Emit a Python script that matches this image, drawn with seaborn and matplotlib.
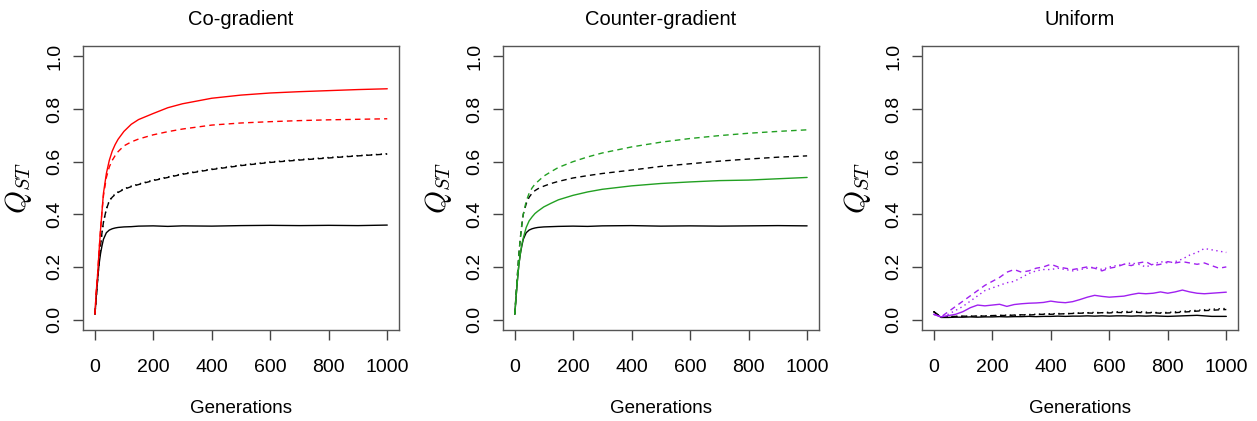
import matplotlib
matplotlib.use("Agg")
import matplotlib.pyplot as plt
import seaborn as sns

# generations sampled for the smooth panels
gens = [1, 5, 10, 15, 20, 25, 30, 40, 50, 60, 70, 80, 100, 125, 150,
        200, 250, 300, 400, 500, 600, 700, 800, 900, 1000]

# Co-gradient
co_red_solid = [0.02, 0.10, 0.17, 0.26, 0.34, 0.41, 0.48, 0.555, 0.605, 0.64, 0.665, 0.685,
                0.715, 0.742, 0.76, 0.783, 0.805, 0.82, 0.841, 0.853, 0.861, 0.866, 0.870, 0.874, 0.877]
co_red_dash = [0.02, 0.10, 0.17, 0.26, 0.34, 0.41, 0.47, 0.54, 0.58, 0.605, 0.623, 0.638,
               0.66, 0.675, 0.686, 0.702, 0.714, 0.724, 0.739, 0.747, 0.752, 0.756, 0.759, 0.761, 0.763]
co_blk_dash = [0.02, 0.08, 0.15, 0.22, 0.28, 0.33, 0.37, 0.42, 0.45, 0.465, 0.475, 0.483,
               0.495, 0.505, 0.513, 0.528, 0.540, 0.552, 0.570, 0.585, 0.597, 0.606, 0.614, 0.622, 0.629]
co_blk_dot = [0.02, 0.08, 0.15, 0.22, 0.28, 0.33, 0.37, 0.42, 0.452, 0.467, 0.477, 0.485,
              0.497, 0.507, 0.515, 0.530, 0.542, 0.554, 0.572, 0.587, 0.599, 0.608, 0.616, 0.623, 0.630]
co_blk_solid = [0.02, 0.08, 0.15, 0.21, 0.25, 0.28, 0.305, 0.33, 0.34, 0.345, 0.348, 0.35,
                0.352, 0.353, 0.355, 0.356, 0.354, 0.356, 0.355, 0.357, 0.358, 0.357, 0.358, 0.357, 0.359]

# Counter-gradient
cg_grn_dash = [0.02, 0.09, 0.17, 0.25, 0.31, 0.36, 0.40, 0.45, 0.48, 0.50, 0.515, 0.525,
               0.545, 0.562, 0.578, 0.600, 0.618, 0.633, 0.656, 0.674, 0.688, 0.699, 0.708, 0.715, 0.721]
cg_blk_dash = [0.02, 0.09, 0.17, 0.25, 0.31, 0.36, 0.40, 0.44, 0.465, 0.48, 0.49, 0.497,
               0.507, 0.517, 0.525, 0.538, 0.547, 0.555, 0.568, 0.582, 0.592, 0.602, 0.610, 0.617, 0.622]
cg_grn_solid = [0.02, 0.08, 0.15, 0.21, 0.25, 0.285, 0.31, 0.35, 0.375, 0.39, 0.403, 0.412,
                0.428, 0.442, 0.455, 0.472, 0.485, 0.495, 0.508, 0.517, 0.523, 0.528, 0.530, 0.535, 0.540]
cg_blk_solid = [0.02, 0.08, 0.15, 0.21, 0.25, 0.28, 0.305, 0.33, 0.34, 0.345, 0.348, 0.35,
                0.352, 0.353, 0.354, 0.355, 0.354, 0.356, 0.357, 0.355, 0.356, 0.355, 0.356, 0.357, 0.356]

# Uniform (noisier, sampled every 25 generations)
ugens = list(range(0, 1001, 25))
un_pur_dash = [0.02, 0.01, 0.03, 0.05, 0.07, 0.09, 0.11, 0.13, 0.145, 0.16, 0.18, 0.19, 0.18, 0.185,
               0.195, 0.20, 0.21, 0.20, 0.195, 0.19, 0.195, 0.20, 0.195, 0.185, 0.195, 0.20, 0.21,
               0.205, 0.215, 0.22, 0.205, 0.21, 0.22, 0.215, 0.22, 0.215, 0.21, 0.215, 0.205, 0.195, 0.20]
un_pur_dot = [0.02, 0.01, 0.02, 0.035, 0.05, 0.07, 0.09, 0.11, 0.12, 0.13, 0.14, 0.145, 0.16, 0.175,
              0.185, 0.19, 0.19, 0.195, 0.19, 0.185, 0.19, 0.195, 0.20, 0.19, 0.20, 0.205, 0.21,
              0.215, 0.21, 0.20, 0.21, 0.22, 0.215, 0.22, 0.23, 0.245, 0.255, 0.27, 0.265, 0.26, 0.255]
un_pur_solid = [0.02, 0.01, 0.015, 0.02, 0.03, 0.045, 0.055, 0.052, 0.055, 0.058, 0.05, 0.057, 0.06,
                0.062, 0.063, 0.065, 0.07, 0.066, 0.064, 0.068, 0.076, 0.085, 0.092, 0.088, 0.085,
                0.087, 0.089, 0.095, 0.10, 0.098, 0.10, 0.105, 0.10, 0.105, 0.112, 0.105, 0.10, 0.098,
                0.10, 0.102, 0.104]
un_blk_dash = [0.03, 0.01, 0.012, 0.012, 0.013, 0.012, 0.014, 0.013, 0.015, 0.016, 0.015, 0.017, 0.018,
               0.017, 0.019, 0.02, 0.02, 0.021, 0.022, 0.023, 0.024, 0.025, 0.024, 0.026, 0.025,
               0.027, 0.026, 0.028, 0.027, 0.025, 0.026, 0.024, 0.025, 0.026, 0.028, 0.03, 0.032,
               0.034, 0.035, 0.037, 0.038]
un_blk_dot = [0.03, 0.01, 0.011, 0.012, 0.012, 0.013, 0.013, 0.014, 0.015, 0.015, 0.017, 0.016, 0.018,
              0.019, 0.02, 0.021, 0.022, 0.023, 0.022, 0.024, 0.025, 0.026, 0.027, 0.026, 0.028,
              0.029, 0.03, 0.031, 0.03, 0.028, 0.027, 0.026, 0.027, 0.029, 0.031, 0.033, 0.035,
              0.037, 0.039, 0.041, 0.042]
un_blk_solid = [0.03, 0.008, 0.008, 0.009, 0.009, 0.01, 0.009, 0.01, 0.01, 0.011, 0.01, 0.011, 0.011,
                0.012, 0.011, 0.012, 0.012, 0.013, 0.012, 0.013, 0.013, 0.014, 0.013, 0.014, 0.013,
                0.014, 0.014, 0.013, 0.014, 0.013, 0.014, 0.013, 0.012, 0.013, 0.014, 0.015, 0.016,
                0.014, 0.012, 0.012, 0.012]

titles = ["Co-gradient", "Counter-gradient", "Uniform"]
RED, GREEN, PURPLE = "#ff0000", "#22a022", "#a020f0"
DASH = (0, (4, 3))
DOT = (0, (1, 2.5))

panels = [
    [(gens, co_blk_solid, "black", "-"), (gens, co_blk_dash, "black", DASH),
     (gens, co_blk_dot, "black", DOT), (gens, co_red_solid, RED, "-"),
     (gens, co_red_dash, RED, DASH)],
    [(gens, cg_blk_solid, "black", "-"), (gens, cg_blk_dash, "black", DASH),
     (gens, cg_grn_solid, GREEN, "-"), (gens, cg_grn_dash, GREEN, DASH)],
    [(ugens, un_blk_solid, "black", "-"), (ugens, un_blk_dash, "black", DASH),
     (ugens, un_blk_dot, "black", DOT), (ugens, un_pur_solid, PURPLE, "-"),
     (ugens, un_pur_dash, PURPLE, DASH), (ugens, un_pur_dot, PURPLE, DOT)],
]

sns.set_style("white")
plt.rcParams['font.family'] = ['Liberation Sans', 'DejaVu Sans']
plt.rcParams['mathtext.fontset'] = 'cm'
plt.rcParams['text.color'] = 'black'
plt.rcParams['axes.labelcolor'] = 'black'
plt.rcParams['xtick.color'] = 'black'
plt.rcParams['ytick.color'] = 'black'

fig = plt.figure(figsize=(12.57, 4.21), dpi=100)
lefts = [0.066, 0.400, 0.7335]
for i, left in enumerate(lefts):
    ax = fig.add_axes([left, 0.216, 0.2514, 0.675])
    for xs, ys, col, ls in panels[i]:
        sns.lineplot(x=xs, y=ys, ax=ax, color=col, linestyle=ls, linewidth=1.0)
    ax.set_xlim(-40, 1040)
    ax.set_ylim(-0.04, 1.04)
    ax.set_xticks([0, 200, 400, 600, 800, 1000])
    ax.set_yticks([0.0, 0.2, 0.4, 0.6, 0.8, 1.0])
    ax.set_yticklabels(["0.0", "0.2", "0.4", "0.6", "0.8", "1.0"], rotation=90, va="center")
    ax.tick_params(axis="both", direction="out", length=7, width=1, color="#444444",
                   labelsize=14, left=True, bottom=True)
    ax.tick_params(axis="x", pad=14)
    ax.tick_params(axis="y", pad=7)
    for sp in ax.spines.values():
        sp.set_color("#555555")
        sp.set_linewidth(1)
    ax.set_title(titles[i], fontsize=14.5, pad=15)
    ax.set_xlabel("Generations", fontsize=13.5, labelpad=17)
    ax.set_ylabel(r"$Q_{ST}$", fontsize=21, labelpad=9)

fig.savefig("out.png", dpi=100)
